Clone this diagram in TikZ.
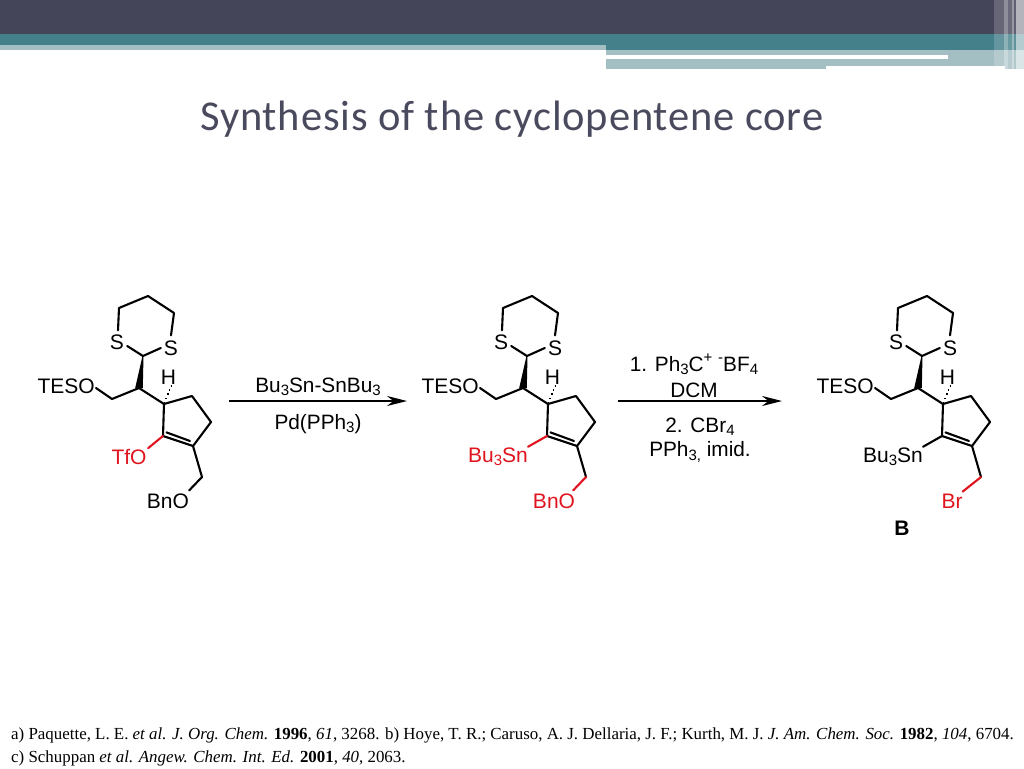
\documentclass[tikz,border=0pt]{standalone}
\usepackage{fontspec}
\setmainfont{Liberation Sans}
\newfontfamily\titlefont{Carlito}
\newfontfamily\reffont{Liberation Serif}
\usetikzlibrary{arrows.meta,calc}
\definecolor{hdark}{HTML}{45455A}
\definecolor{hteal}{HTML}{44808A}
\definecolor{hpale}{HTML}{A4BFC3}
\definecolor{chemred}{HTML}{E0141E}
\definecolor{titlecol}{HTML}{4A4A5E}
\newcommand{\chemsub}[1]{\raisebox{-0.3ex}{\fontsize{15}{15}\selectfont #1}}
\newcommand{\chemsup}[1]{\raisebox{0.8ex}{\fontsize{15}{15}\selectfont #1}}
\tikzset{
  bond/.style={line width=2.1pt,line cap=round,line join=round},
  chem/.style={font=\fontsize{21}{22}\selectfont,inner sep=0pt,text=black},
  reagent/.style={font=\fontsize{20.8}{22}\selectfont,inner sep=0pt,text=black},
  rxn/.style={line width=2pt,-{Stealth[length=20pt,width=10pt]}},
  pics/core/.style n args={3}{code={
    \coordinate (-cs) at (143,356);
    \coordinate (-r1) at (119,308);
    \coordinate (-r2) at (148,296);
    \coordinate (-r3) at (174,313);
    \coordinate (-ch) at (139,388);
    \coordinate (-ch2) at (112,399);
    \coordinate (-a) at (164,404);
    \coordinate (-b) at (192,396);
    \coordinate (-c) at (211,422);
    \coordinate (-d) at (193,446);
    \coordinate (-e) at (163,436);
    \coordinate (-f) at (202,477);
    \coordinate (-hh) at (168,385);
    \node[chem] (-sl) at (117,342) {S};
    \node[chem] (-sr) at (171,348) {S};
    \node[chem] (-h) at (168.5,377) {H};
    \node[chem,anchor=east] (-teso) at (95,386) {TESO};
    \draw[bond] ([shift={(1,-4)}]-sl.north) -- (-r1) -- (-r2) -- (-r3) -- ([shift={(0,-5)}]-sr.north);
    \draw[bond] ([shift={(3,4)}]-sl.east) -- (-cs) -- ([shift={(-3,0)}]-sr.west);
    \fill ([xshift=-0.5pt]-cs) -- ([xshift=-3.8pt]-ch) -- ([xshift=3.8pt]-ch) -- ([xshift=0.5pt]-cs) -- cycle;
    \draw[bond] ([shift={(1,2)}]-teso.east) -- (-ch2) -- (-ch) -- (-a) -- (-b) -- (-c) -- (-d) -- (-e) -- (-a);
    \draw[bond] ([shift={(3.5,-3.6)}]-e) -- ([shift={(-3,-5)}]-d);
    \foreach \i in {0,...,4} {
      \draw[line width=1.6pt] ($(-a)!{0.08+\i*0.22}!(-hh)+(-{0.8+\i*0.9},0)$) -- ($(-a)!{0.08+\i*0.22}!(-hh)+({0.8+\i*0.9},0)$);
    }
    \draw[bond] (-d) -- (-f);
    #1
    #2
    #3
  }}
}
\begin{document}
\begin{tikzpicture}[x=1pt,y=-1pt]
\useasboundingbox (0,0) rectangle (1024,768);
\fill[white] (0,0) rectangle (1024,768);
% header
\fill[hdark] (0,0) rectangle (1024,34);
\fill[hteal] (0,34) rectangle (1024,45);
\fill[hteal] (606,45) rectangle (1024,50);
\fill[hpale] (0,45) rectangle (606,50);
\fill[hpale] (606,50) rectangle (1024,69);
\fill[white] (606,55.5) rectangle (948,59);
\fill[white] (826,66) rectangle (1005,69);
% right stripes
\fill[white,opacity=.18] (994,0) rectangle (1004,69);
\fill[white,opacity=.40] (1004,0) rectangle (1008,69);
\fill[white,opacity=.20] (1008,0) rectangle (1012,69);
\fill[white,opacity=.45] (1012,0) rectangle (1014,69);
\fill[white,opacity=.15] (1014,0) rectangle (1016,69);
\fill[white,opacity=.60] (1016,0) rectangle (1024,69);
% title
\node[inner sep=0pt,text=titlecol,anchor=base west] (title) at (200,130)
  {\titlefont\addfontfeature{LetterSpace=2}\fontsize{42.5}{44}\selectfont Synthesis of the cyclopentene core};
% structure 1
\pic (m) at (0,0) {core={
    \node[chem,text=chemred] (-x) at (129,457) {TfO};
    \draw[bond,chemred] (-e) -- ([shift={(1.5,-1)}]-x.north east);
  }{
    \node[chem] (-y) at (168,501) {BnO};
  }{
    \draw[bond] (-f) -- ([shift={(0,-3)}]-y.north east);
  }};
% structure 2
\pic (n) at (384,0) {core={
    \node[chem,text=chemred] (-x) at (114,457) {Bu\chemsub{3}Sn};
    \draw[bond,chemred] (-e) -- ([shift={(0,-1)}]-x.north east);
  }{
    \node[chem,text=chemred] (-y) at (170,501) {BnO};
  }{
    \draw[bond,chemred] (-f) -- ([shift={(-2,-3)}]-y.north east);
  }};
% structure 3
\pic (p) at (779,0) {core={
    \node[chem] (-x) at (114,457) {Bu\chemsub{3}Sn};
    \draw[bond] (-e) -- ([shift={(0,-1)}]-x.north east);
  }{
    \node[chem,text=chemred] (-y) at (173,501) {Br};
  }{
    \draw[bond,chemred] (-f) -- ([shift={(0,-2)}]-y.north east);
  }};
\node[chem,font=\bfseries\fontsize{21}{22}\selectfont] (blabel) at (902,528) {B};
% arrows
\coordinate (a1s) at (229,401);
\coordinate (a1e) at (407,401);
\coordinate (a2s) at (618,401);
\coordinate (a2e) at (782,401);
\draw[rxn] (a1s) -- (a1e);
\draw[rxn] (a2s) -- (a2e);
\node[reagent] (r1) at (318,387) {Bu\chemsub{3}Sn-SnBu\chemsub{3}};
\node[reagent] (r2) at (318,424) {Pd(PPh\chemsub{3})};
\node[reagent] (r3) at (694,364) {1. Ph\chemsub{3}C\chemsup{+} \chemsup{-}BF\chemsub{4}};
\node[reagent] (r4) at (694,390) {DCM};
\node[reagent] (r5) at (700,427) {2. CBr\chemsub{4}};
\node[reagent] (r6) at (700,452) {PPh\chemsub{3,} imid.};
% references
\node[inner sep=0pt,anchor=base west] (ref1) at (11,739) {\reffont\fontsize{16.9}{18}\selectfont a) Paquette, L. E. \textit{et al. J. Org. Chem.} \textbf{1996}, \textit{61}, 3268. b) Hoye, T. R.; Caruso, A. J. Dellaria, J. F.; Kurth, M. J. \textit{J. Am. Chem. Soc.} \textbf{1982}, \textit{104}, 6704.};
\node[inner sep=0pt,anchor=base west] (ref2) at (11,762) {\reffont\fontsize{16.9}{18}\selectfont c) Schuppan \textit{et al. Angew. Chem. Int. Ed.} \textbf{2001}, \textit{40}, 2063.};
\end{tikzpicture}
\end{document}
